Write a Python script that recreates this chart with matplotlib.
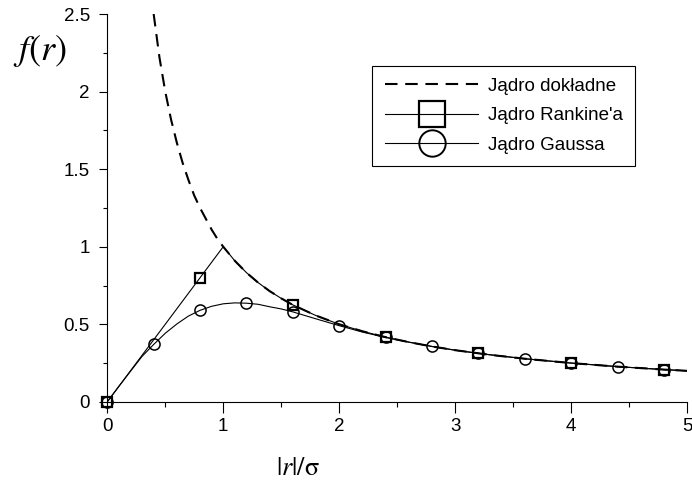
import matplotlib
matplotlib.use("Agg")
import matplotlib.pyplot as plt

plt.rcParams['font.family'] = ['Liberation Sans', 'DejaVu Sans']
plt.rcParams['mathtext.fontset'] = 'stix'

# exact kernel 1/r (dashed)
x_exact = [0.4, 0.45, 0.5, 0.55, 0.6, 0.65, 0.7, 0.75, 0.8, 0.85, 0.9, 0.95, 1.0,
           1.1, 1.2, 1.3, 1.4, 1.5, 1.6, 1.8, 2.0, 2.2, 2.4, 2.6, 2.8, 3.0,
           3.3, 3.6, 4.0, 4.4, 4.8, 5.0]
y_exact = [2.5, 2.22, 2.0, 1.82, 1.67, 1.54, 1.43, 1.33, 1.25, 1.18, 1.11, 1.05, 1.0,
           0.909, 0.833, 0.769, 0.714, 0.667, 0.625, 0.556, 0.5, 0.455, 0.417, 0.385, 0.357, 0.333,
           0.303, 0.278, 0.25, 0.227, 0.208, 0.2]

# Rankine kernel line
x_rank = [0.0, 1.0, 1.1, 1.2, 1.3, 1.4, 1.5, 1.6, 1.8, 2.0, 2.2, 2.4, 2.6, 2.8, 3.0,
          3.3, 3.6, 4.0, 4.4, 4.8, 5.0]
y_rank = [0.0, 1.0, 0.909, 0.833, 0.769, 0.714, 0.667, 0.625, 0.556, 0.5, 0.455, 0.417, 0.385, 0.357, 0.333,
          0.303, 0.278, 0.25, 0.227, 0.208, 0.2]
x_rank_mk = [0.0, 0.8, 1.6, 2.4, 3.2, 4.0, 4.8]
y_rank_mk = [0.0, 0.8, 0.625, 0.417, 0.3125, 0.25, 0.208]

# Gauss kernel line
x_gauss = [0.0, 0.1, 0.2, 0.3, 0.4, 0.5, 0.6, 0.7, 0.8, 0.9, 1.0, 1.1, 1.2, 1.3, 1.4, 1.5,
           1.6, 1.8, 2.0, 2.2, 2.4, 2.6, 2.8, 3.0, 3.2, 3.6, 4.0, 4.4, 4.8, 5.0]
y_gauss = [0.0, 0.0995, 0.197, 0.293, 0.370, 0.442, 0.502, 0.553, 0.590, 0.616, 0.632, 0.638, 0.636, 0.629, 0.613, 0.599,
           0.580, 0.535, 0.491, 0.450, 0.415, 0.385, 0.357, 0.333, 0.3125, 0.278, 0.25, 0.227, 0.208, 0.2]
x_gauss_mk = [0.0, 0.4, 0.8, 1.2, 1.6, 2.0, 2.4, 2.8, 3.2, 3.6, 4.0, 4.4, 4.8]
y_gauss_mk = [0.0, 0.370, 0.590, 0.636, 0.580, 0.491, 0.415, 0.357, 0.3125, 0.278, 0.25, 0.227, 0.208]

fig = plt.figure(figsize=(6.92, 4.83), dpi=100)
ax = fig.add_axes([0.155, 0.168, 0.838, 0.803])

dash = (0, (6, 3.7))
ax.plot(x_exact, y_exact, color='black', lw=1.5, ls=dash)
ax.plot(x_rank, y_rank, color='black', lw=0.8)
ax.plot(x_rank_mk, y_rank_mk, ls='none', marker='s', ms=7.5, mfc='none', mec='black', mew=1.6,
        clip_on=False, zorder=4)
ax.plot(x_gauss, y_gauss, color='black', lw=0.8)
ax.plot(x_gauss_mk, y_gauss_mk, ls='none', marker='o', ms=8, mfc='none', mec='black', mew=1.1,
        clip_on=False, zorder=4)

# legend proxies (line + marker)
h1, = ax.plot([], [], color='black', lw=1.5, ls=dash)
h2, = ax.plot([], [], color='black', lw=0.8, marker='s', ms=18.5, mfc='none', mec='black', mew=1.6)
h3, = ax.plot([], [], color='black', lw=0.8, marker='o', ms=19, mfc='none', mec='black', mew=1.4)
leg = ax.legend([h1, h2, h3], ['Jądro dokładne', "Jądro Rankine'a", 'Jądro Gaussa'],
                loc='upper right', bbox_to_anchor=(0.91, 0.867), fontsize=13.5,
                handlelength=5.0, handletextpad=0.5, fancybox=False, framealpha=1,
                edgecolor='black', borderpad=0.65, labelspacing=0.65, borderaxespad=0)
leg.get_frame().set_linewidth(0.8)

ax.set_xlim(0, 5)
ax.set_ylim(0, 2.5)
ax.set_xticks([0, 1, 2, 3, 4, 5])
ax.set_xticks([0.5, 1.5, 2.5, 3.5, 4.5], minor=True)
ax.set_yticks([0, 0.5, 1, 1.5, 2, 2.5])
ax.set_yticklabels(['0', '0.5', '1', '1.5', '2', '2.5'])
ax.set_yticks([0.25, 0.75, 1.25, 1.75, 2.25], minor=True)
ax.tick_params(axis='x', which='major', direction='out', length=8, width=0.8, labelsize=13.5, pad=3.5)
ax.tick_params(axis='x', which='minor', direction='out', length=3.6, width=0.8)
ax.tick_params(axis='y', which='major', direction='out', length=5.5, width=0.8, labelsize=13.5, pad=7)
ax.tick_params(axis='y', which='minor', direction='out', length=3, width=0.8)
ax.spines['top'].set_visible(False)
ax.spines['right'].set_visible(False)

ax.text(-0.116, 0.905, '$f(r)$', transform=ax.transAxes, fontsize=26,
        ha='center', va='center')
ax.text(0.329, -0.170, r'$|r|/\mathrm{\sigma}$', transform=ax.transAxes, fontsize=19,
        ha='center', va='center')

fig.savefig('out.png', dpi=100)
